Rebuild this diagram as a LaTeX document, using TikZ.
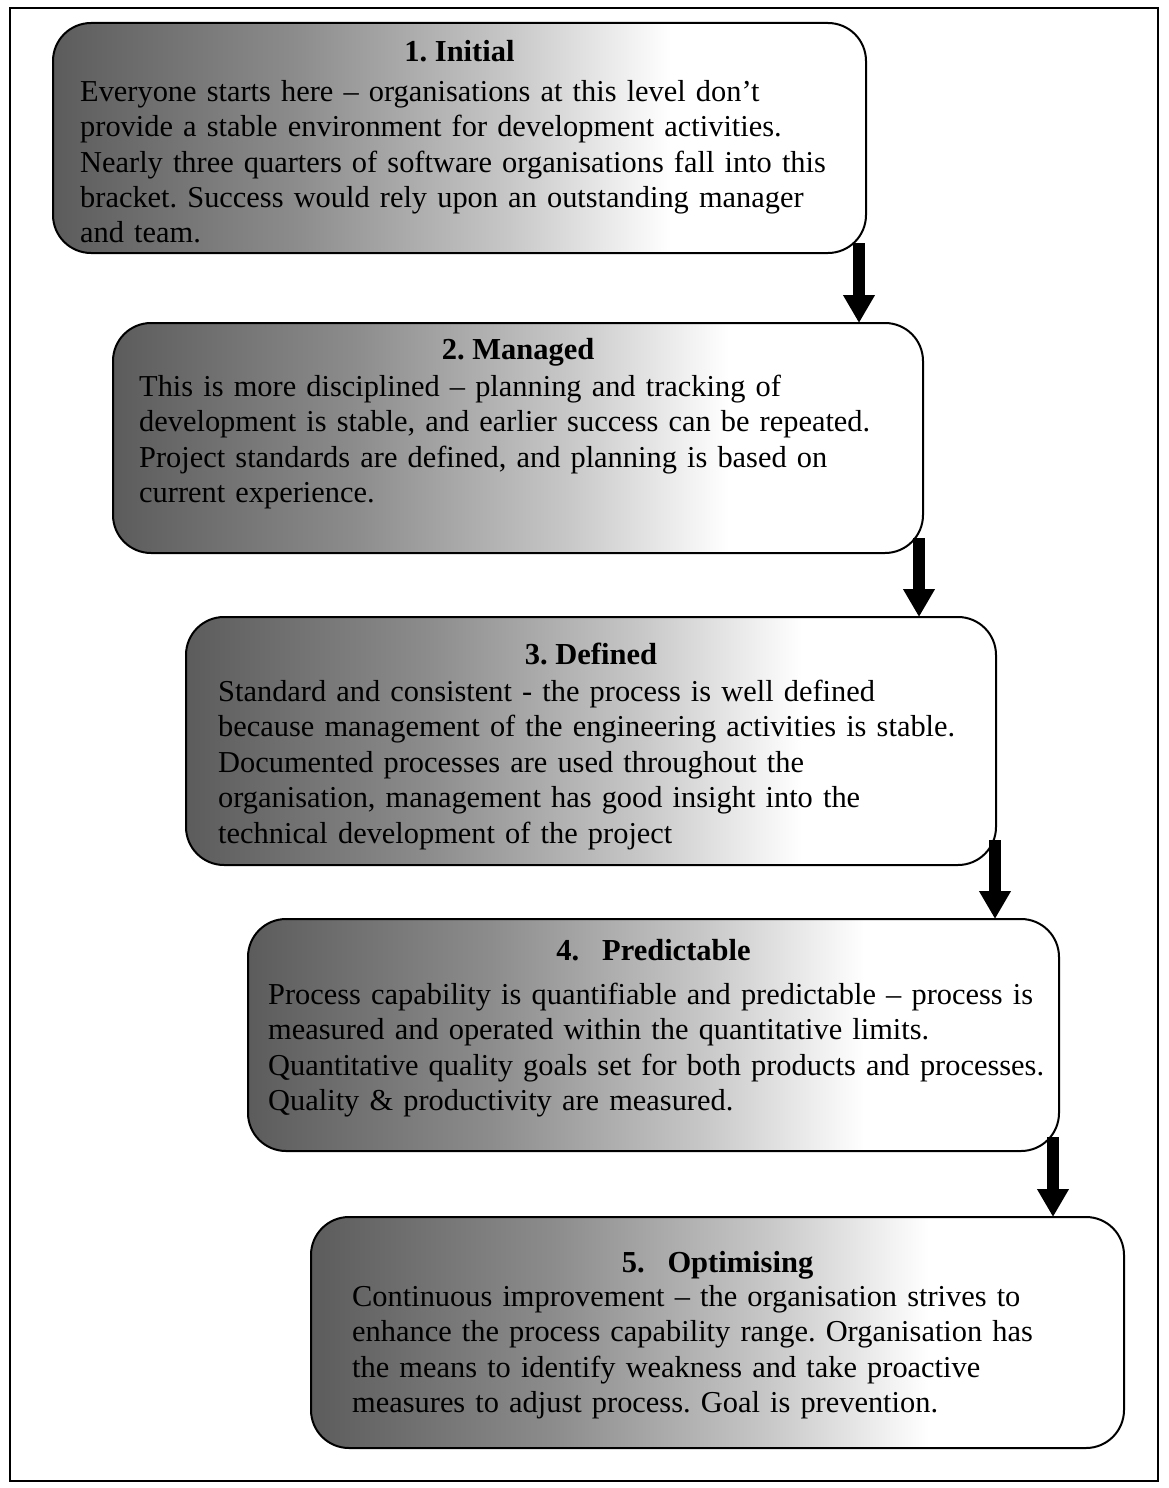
\documentclass[tikz,border=0pt]{standalone}
\usepackage{fontspec}
\setmainfont{Liberation Serif}
\usetikzlibrary{arrows.meta}
\frenchspacing

% grey ramp used inside every stage box (dark at the left, white at the right)
\definecolor{rampA}{gray}{0.36}
\definecolor{rampB}{gray}{0.55}
\definecolor{rampC}{gray}{0.78}
\definecolor{rampD}{gray}{1.0}
\pgfdeclarehorizontalshading{stageramp}{100bp}{%
  color(0bp)=(rampA); color(25bp)=(rampA);
  color(40bp)=(rampB); color(53bp)=(rampC);
  color(63bp)=(rampD); color(100bp)=(rampD)}

\tikzset{
  stagebox/.style={draw=black, line width=2pt, rounded corners=38pt,
    shading=stageramp, anchor=north west, outer sep=0pt, inner sep=0pt},
  stagetitle/.style={anchor=base, inner sep=0pt,
    font=\fontsize{30.5}{35.5}\selectfont\bfseries},
  stagetext/.style={anchor=base west, inner sep=0pt, text width=830pt,
    align=left, font=\fontsize{30.4}{35.5}\selectfont},
  stepdown/.style={line width=12pt, draw=black,
    -{Triangle[width=30pt,length=28pt]}}
}

\begin{document}
\begin{tikzpicture}[x=1pt,y=-1pt]
\fill[white] (0,0) rectangle (1168,1488);
\useasboundingbox (0,0) rectangle (1168,1488);
\draw[line width=1.5pt] (10,8) rectangle (1158,1481);

% stage boxes
\node[stagebox, minimum width=813pt, minimum height=230pt] (b1) at (53,23) {};
\node[stagebox, minimum width=810pt, minimum height=230pt] (b2) at (113,323) {};
\node[stagebox, minimum width=810pt, minimum height=248pt] (b3) at (186,617) {};
\node[stagebox, minimum width=811pt, minimum height=232pt] (b4) at (248,919) {};
\node[stagebox, minimum width=813pt, minimum height=231pt] (b5) at (311,1217) {};

% titles
\node[stagetitle] (h1) at (459.5,62) {1. Initial};
\node[stagetitle] (h2) at (518,359) {2. Managed};
\node[stagetitle] (h3) at (591,664) {3. Defined};
\node[stagetitle] (h4) at (653.5,960) {4.\hspace{0.75em}Predictable};
\node[stagetitle] (h5) at (717.5,1272) {5.\hspace{0.75em}Optimising};

% descriptions
\node[stagetext] (d1) at (80,101) {Everyone starts here – organisations at this level don’t\\
provide a stable environment for development activities.\\
Nearly three quarters of software organisations fall into this\\
bracket. Success would rely upon an outstanding manager\\
and team.};
\node[stagetext] (d2) at (139,396) {This is more disciplined – planning and tracking of\\
development is stable, and earlier success can be repeated.\\
Project standards are defined, and planning is based on\\
current experience.};
\node[stagetext] (d3) at (218,701) {Standard and consistent - the process is well defined\\
because management of the engineering activities is stable.\\
Documented processes are used throughout the\\
organisation, management has good insight into the\\
technical development of the project};
\node[stagetext] (d4) at (268,1004) {Process capability is quantifiable and predictable – process is\\
measured and operated within the quantitative limits.\\
Quantitative quality goals set for both products and processes.\\
Quality \& productivity are measured.};
\node[stagetext] (d5) at (352,1306) {Continuous improvement – the organisation strives to\\
enhance the process capability range. Organisation has\\
the means to identify weakness and take proactive\\
measures to adjust process. Goal is prevention.};

% arrows from one stage down to the next
\coordinate (a1) at ([xshift=-7pt,yshift=10pt]b1.south east);
\coordinate (a2) at ([xshift=-4pt,yshift=15pt]b2.south east);
\coordinate (a3) at ([xshift=-1pt,yshift=25pt]b3.south east);
\coordinate (a4) at ([xshift=-6pt,yshift=14pt]b4.south east);
\draw[stepdown] (a1) -- (a1 |- b2.north);
\draw[stepdown] (a2) -- (a2 |- b3.north);
\draw[stepdown] (a3) -- (a3 |- b4.north);
\draw[stepdown] (a4) -- (a4 |- b5.north);
\end{tikzpicture}
\end{document}
